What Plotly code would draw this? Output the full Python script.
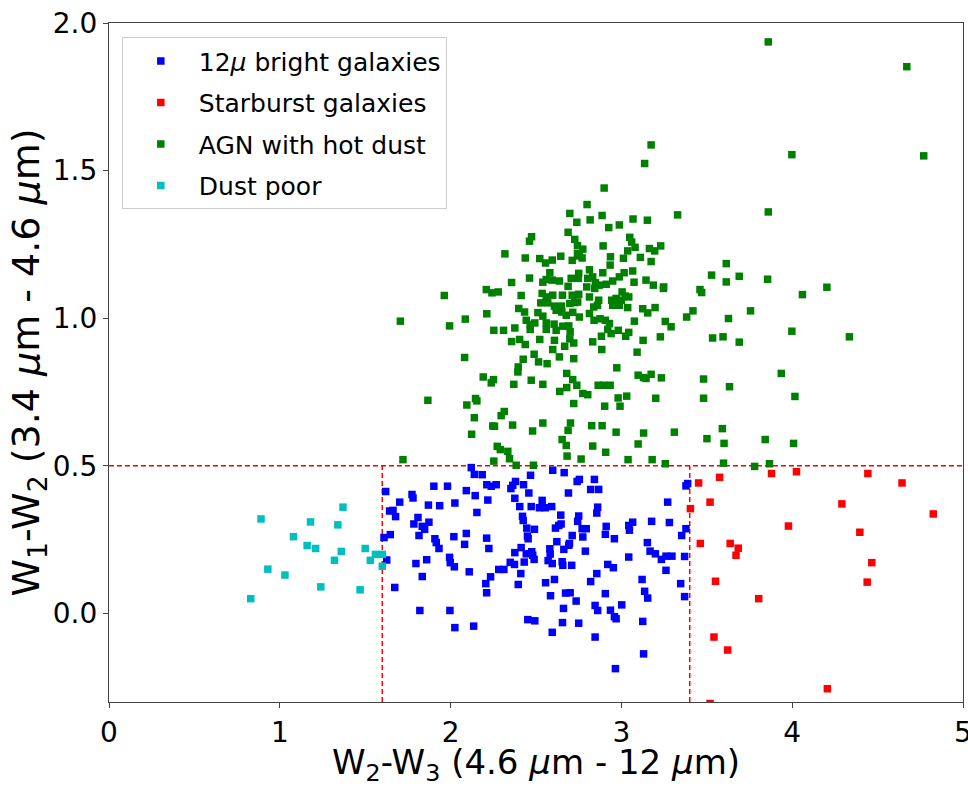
import plotly.graph_objects as go

# ---- data ----
cyan_x = [0.89, 1.37, 1.18, 1.34, 1.08, 1.16, 1.21, 1.36, 1.50, 1.32, 1.56, 1.60, 1.53, 1.60, 0.93, 1.03, 1.24, 1.47, 0.83]
cyan_y = [0.32, 0.36, 0.31, 0.30, 0.26, 0.23, 0.22, 0.21, 0.22, 0.18, 0.20, 0.20, 0.18, 0.16, 0.15, 0.13, 0.09, 0.08, 0.05]

blue_x = [2.121, 2.139, 2.185, 2.598, 2.665, 2.468, 1.902, 1.982, 2.212, 2.238, 2.267, 2.380, 2.364, 2.353, 2.427,
          1.620, 2.092, 1.774, 1.780, 2.144, 2.458, 2.690, 1.702, 1.870, 1.936, 2.025, 2.218, 2.376, 2.405, 2.472,
          2.536, 2.520, 2.554, 2.592, 1.643, 1.663, 1.678, 2.154, 2.645, 1.809, 1.785, 1.834, 1.848, 1.873, 2.421,
          2.425, 2.446, 2.491, 2.450, 2.454, 2.614, 2.633, 2.647, 1.815, 1.647, 1.610, 1.908, 1.916, 1.932, 2.019,
          2.092, 2.082, 2.211, 2.224, 2.622, 2.663, 2.692, 2.581, 2.583, 2.571, 2.376, 2.413, 2.443, 2.475, 2.481,
          2.431, 2.489, 2.349, 2.374, 1.626, 1.797, 1.860, 1.994, 1.998, 2.022, 2.282, 2.312, 2.109, 2.411, 2.595,
          2.653, 2.657, 1.834, 2.234, 2.206, 2.211, 2.396, 2.556, 2.608, 1.673, 2.585, 2.673, 1.820, 1.996, 2.452,
          2.493, 2.661, 2.655, 2.025, 2.135, 2.595,
          2.741, 2.754, 2.842, 2.820, 2.867, 3.388, 3.378, 3.271, 2.861, 2.856, 2.750, 2.744, 2.770, 2.794, 2.774,
          2.911, 2.906, 2.959, 3.043, 3.066, 3.047, 3.177, 3.281, 3.378, 3.353, 2.712, 2.696, 2.709, 2.789, 2.920,
          2.953, 3.043, 3.152, 3.168, 3.199, 3.234, 3.261, 3.296, 3.370, 3.261, 2.856, 2.820, 2.700, 2.735, 2.906,
          3.121, 3.136, 3.154, 3.347, 3.370, 2.846, 2.861, 2.936, 2.959, 2.969, 3.002, 2.750, 2.846, 3.125, 3.130,
          2.965]
blue_y = [0.494, 0.471, 0.470, 0.485, 0.477, 0.468, 0.431, 0.431, 0.436, 0.431, 0.436, 0.447, 0.434, 0.423, 0.436,
          0.413, 0.416, 0.403, 0.391, 0.399, 0.408, 0.408, 0.377, 0.367, 0.365, 0.374, 0.384, 0.390, 0.362, 0.362,
          0.383, 0.358, 0.358, 0.362, 0.347, 0.349, 0.328, 0.342, 0.333, 0.325, 0.303, 0.295, 0.285, 0.309, 0.329,
          0.315, 0.289, 0.285, 0.262, 0.253, 0.289, 0.298, 0.303, 0.264, 0.267, 0.257, 0.253, 0.240, 0.220, 0.260,
          0.271, 0.234, 0.255, 0.220, 0.243, 0.217, 0.231, 0.219, 0.201, 0.179, 0.206, 0.223, 0.202, 0.209, 0.197,
          0.174, 0.183, 0.173, 0.166, 0.181, 0.169, 0.182, 0.190, 0.172, 0.158, 0.149, 0.149, 0.141, 0.135, 0.169,
          0.175, 0.163, 0.125, 0.124, 0.101, 0.070, 0.098, 0.104, 0.115, 0.088, 0.060, 0.069, 0.010, 0.010, -0.021,
          -0.025, 0.017, -0.031, -0.048, -0.043, -0.064,
          0.447, 0.454, 0.454, 0.420, 0.420, 0.440, 0.432, 0.377, 0.360, 0.340, 0.330, 0.312, 0.287, 0.287, 0.259,
          0.295, 0.268, 0.253, 0.298, 0.309, 0.282, 0.312, 0.308, 0.287, 0.264, 0.264, 0.237, 0.163, 0.211, 0.166,
          0.155, 0.191, 0.240, 0.211, 0.202, 0.183, 0.194, 0.194, 0.193, 0.146, 0.135, 0.108, 0.070, 0.042, 0.067,
          0.115, 0.075, 0.052, 0.101, 0.057, 0.027, 0.010, 0.011, -0.011, -0.018, 0.029, -0.033, -0.080, -0.027, -0.137,
          -0.187]

red_x = [3.452, 3.575, 3.879, 4.025, 4.443, 4.643, 3.404, 3.519, 4.291, 4.826, 3.978, 4.396, 3.462, 3.637, 3.684,
         3.671, 4.466, 3.551, 4.439, 3.804, 3.542, 3.622, 4.206, 3.519]
red_y = [0.442, 0.461, 0.474, 0.480, 0.474, 0.442, 0.355, 0.377, 0.371, 0.337, 0.296, 0.275, 0.237, 0.237, 0.221,
         0.197, 0.172, 0.109, 0.106, 0.050, -0.080, -0.124, -0.255, -0.305]

green_x = [2.698, 2.739, 2.688, 2.474, 2.462, 2.727, 2.743, 2.318, 2.437, 2.522, 2.556, 2.595, 2.645, 2.712, 2.743,
           2.581, 2.560, 2.540, 2.595, 2.637, 2.706, 2.462, 2.357, 2.688, 2.209, 2.242, 2.279, 2.413, 2.536, 2.560,
           2.598, 2.655, 2.712, 1.963, 2.528, 2.569, 2.608, 2.649, 2.698, 2.727, 2.399, 2.433, 2.511, 2.540, 2.618,
           2.651, 2.677, 2.715, 2.212, 2.086, 1.706, 1.994, 2.443, 2.466, 2.493, 2.560, 2.606, 2.560, 2.618, 2.657,
           2.692, 2.700, 2.376, 2.253, 2.310, 2.466, 2.357, 2.404, 2.437, 2.522, 2.608, 2.668, 2.698, 2.721, 2.598,
           2.637, 2.489, 2.515, 2.565, 2.721, 2.082, 2.425, 2.396, 2.394, 2.191, 2.238, 2.251, 2.370, 2.472, 2.540,
           2.680, 2.715, 2.739, 2.680, 2.639, 2.721, 1.867, 2.146, 2.154, 2.095, 2.314, 2.296, 2.139, 2.247, 2.257,
           2.363, 2.540, 2.480, 2.123, 2.702, 2.688, 2.653, 2.677, 2.273, 2.291, 2.335, 2.345, 2.253, 2.682, 1.721,
           2.384, 2.485,
           3.174, 3.136, 2.899, 2.799, 2.817, 2.887, 2.926, 2.988, 3.068, 3.152, 3.329, 2.774, 2.754, 2.770, 2.893,
           3.049, 3.060, 3.037, 3.080, 3.111, 3.164, 3.195, 3.230, 2.936, 2.934, 3.012, 3.174, 2.813, 2.891, 3.066,
           2.750, 2.747, 2.803, 2.832, 2.848, 2.797, 2.844, 2.871, 2.911, 2.949, 2.988, 3.016, 3.074, 3.144, 3.187,
           3.247, 3.246, 2.750, 2.744, 2.813, 2.867, 2.860, 2.838, 2.943, 2.969, 3.004, 3.000, 3.023, 3.043, 2.949,
           2.988, 3.037, 2.754, 2.813, 2.840, 2.875, 2.906, 2.930, 2.920, 2.940, 2.982, 3.025, 3.043, 3.076, 3.125,
           3.154, 3.197, 3.257, 3.291, 3.382, 3.419, 2.883, 2.832, 2.885, 3.127, 3.228, 3.092, 2.973, 2.774, 2.803,
           2.864, 2.896, 2.934, 3.098, 3.129, 3.144, 3.174, 3.234, 2.981, 2.992, 3.031, 3.201, 2.902, 2.826, 2.887,
           2.969, 3.130, 3.310, 2.832, 3.098, 2.908, 2.764, 3.039, 3.180, 3.257,
           3.860, 4.671, 3.998, 4.770, 3.860, 3.614, 3.528, 3.614, 3.690, 3.856, 3.460, 3.470, 4.060, 4.203, 3.627,
           3.756, 3.998, 3.534, 3.595, 3.690, 4.335, 3.936, 3.481, 3.633, 3.481, 4.016, 3.591, 3.501, 3.601, 3.842,
           4.008, 3.598, 3.780, 3.867]
green_y = [1.355, 1.325, 1.291, 1.276, 1.261, 1.267, 1.246, 1.218, 1.204, 1.202, 1.187, 1.197, 1.210, 1.196, 1.219,
           1.154, 1.131, 1.122, 1.129, 1.126, 1.135, 1.136, 1.121, 1.108, 1.097, 1.086, 1.089, 1.077, 1.084, 1.072,
           1.078, 1.078, 1.078, 1.077, 1.052, 1.052, 1.041, 1.041, 1.050, 1.053, 1.033, 1.021, 1.019, 1.007, 1.027,
           1.021, 1.010, 1.020, 1.015, 0.997, 0.990, 0.974, 0.993, 0.979, 0.984, 0.984, 0.980, 0.962, 0.959, 0.973,
           0.974, 0.954, 0.967, 0.959, 0.959, 0.962, 0.921, 0.928, 0.911, 0.928, 0.925, 0.905, 0.930, 0.916, 0.894,
           0.869, 0.878, 0.852, 0.846, 0.863, 0.867, 0.861, 0.835, 0.818, 0.801, 0.781, 0.792, 0.776, 0.790, 0.776,
           0.813, 0.792, 0.773, 0.765, 0.752, 0.711, 0.722, 0.728, 0.720, 0.706, 0.684, 0.670, 0.663, 0.635, 0.634,
           0.638, 0.645, 0.618, 0.607, 0.645, 0.620, 0.589, 0.569, 0.566, 0.555, 0.549, 0.524, 0.516, 0.533, 0.521,
           0.502, 0.502,
           1.587, 1.524, 1.441, 1.385, 1.333, 1.348, 1.307, 1.316, 1.336, 1.332, 1.350, 1.234, 1.211, 1.204, 1.245,
           1.274, 1.258, 1.228, 1.240, 1.206, 1.236, 1.228, 1.245, 1.208, 1.180, 1.203, 1.192, 1.164, 1.154, 1.160,
           1.152, 1.135, 1.135, 1.140, 1.120, 1.106, 1.101, 1.112, 1.115, 1.126, 1.140, 1.154, 1.122, 1.129, 1.112,
           1.106, 1.101, 1.081, 1.055, 1.072, 1.061, 1.044, 1.038, 1.061, 1.067, 1.089, 1.061, 1.075, 1.072, 1.044,
           1.044, 1.036, 1.004, 1.016, 0.993, 0.998, 0.993, 0.982, 0.962, 0.948, 0.959, 0.939, 0.952, 0.990, 1.032,
           1.018, 1.036, 0.989, 0.971, 1.004, 1.025, 0.939, 0.920, 0.894, 0.925, 0.937, 0.885, 0.832, 0.745, 0.741,
           0.773, 0.773, 0.773, 0.807, 0.799, 0.796, 0.810, 0.798, 0.730, 0.702, 0.736, 0.729, 0.702, 0.636, 0.636,
           0.614, 0.611, 0.614, 0.567, 0.574, 0.546, 0.523, 0.521, 0.521, 0.507,
           1.936, 1.852, 1.554, 1.550, 1.360, 1.185, 1.146, 1.123, 1.142, 1.132, 1.097, 1.087, 1.080, 1.105, 0.999,
           1.025, 0.956, 0.933, 0.937, 0.919, 0.937, 0.813, 0.794, 0.768, 0.729, 0.735, 0.626, 0.592, 0.576, 0.589,
           0.576, 0.509, 0.498, 0.507]

cut_x = [1.6, 3.4]      # vertical dashed boundaries
cut_y = 0.5             # horizontal dashed boundary
x_range = [0, 5]
y_range = [-0.3, 2.0]
y_ticks = [0.0, 0.5, 1.0, 1.5, 2.0]

series = [
    ("12<i>μ</i> bright galaxies", blue_x, blue_y, "#0000ff"),
    ("Starburst galaxies", red_x, red_y, "#ff0000"),
    ("AGN with hot dust", green_x, green_y, "#008000"),
    ("Dust poor", cyan_x, cyan_y, "#00bfbf"),
]

fig = go.Figure()

line_style = dict(color="#ff0000", width=1.5, dash="5px,3px")
fig.add_trace(go.Scatter(x=x_range, y=[cut_y, cut_y], mode="lines", line=line_style,
                         showlegend=False, hoverinfo="skip"))
for cx in cut_x:
    fig.add_trace(go.Scatter(x=[cx, cx], y=[y_range[0], cut_y], mode="lines", line=line_style,
                             showlegend=False, hoverinfo="skip"))

for i, (name, xs, ys, col) in enumerate(series):
    fig.add_trace(go.Scatter(
        x=xs, y=ys, mode="markers", name=name, legendgroup=f"g{i}",
        marker=dict(symbol="square", size=7.5, color=col, line=dict(width=0)),
    ))

font_family = "DejaVu Sans, Verdana, sans-serif"
axis_common = dict(
    showline=True, linecolor="#444444", linewidth=1.3, mirror=True,
    ticks="outside", ticklen=5, tickwidth=1.2, tickcolor="#444444",
    showgrid=False, zeroline=False, automargin=False, ticklabeloverflow="allow",
    tickfont=dict(family=font_family, size=28, color="black"),
)

fig.update_layout(
    width=968, height=787, autosize=False,
    margin=dict(l=109, r=5, t=23, b=85),
    plot_bgcolor="white", paper_bgcolor="white",
    font=dict(family=font_family, color="black"),
    xaxis=dict(range=x_range, dtick=1, tick0=0,
               title=dict(text="W<sub>2</sub>-W<sub>3</sub> (4.6 <i>μ</i>m - 12 <i>μ</i>m)",
                          font=dict(size=34)),
               **axis_common),
    yaxis=dict(range=y_range, tickvals=y_ticks, tickformat=".1f",
               title=dict(text="W<sub>1</sub>-W<sub>2</sub> (3.4 <i>μ</i>m - 4.6 <i>μ</i>m)",
                          font=dict(size=38), standoff=0),
               **axis_common),
    legend=dict(x=0.015, y=0.979, xanchor="left", yanchor="top",
                bgcolor="rgba(255,255,255,0.85)", bordercolor="#cccccc", borderwidth=1,
                font=dict(size=25), tracegroupgap=6, itemwidth=66),
    showlegend=True,
)

fig.write_html("out.html", config={"displayModeBar": False},
               post_script="document.body.style.margin='0px';document.body.style.overflow='hidden';")
